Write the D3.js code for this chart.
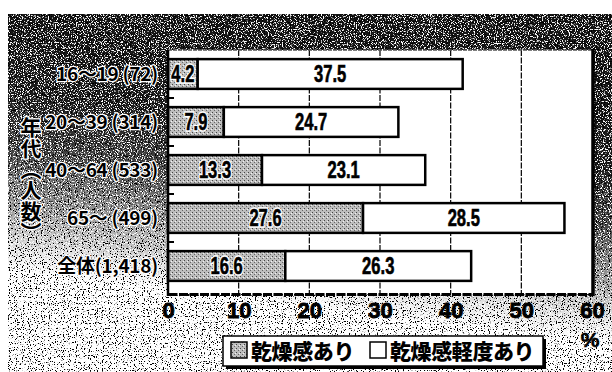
<!DOCTYPE html>
<html>
<head>
<meta charset="utf-8">
<script src="https://cdn.jsdelivr.net/npm/d3@7"></script>
<style>
  html, body { margin: 0; padding: 0; background: #fff; }
  svg { display: block; }
</style>
</head>
<body>
<script>
// Dryness sensation by age group (percent of respondents)
const categories = ["16～19 (72)", "20～39 (314)", "40～64 (533)", "65～ (499)", "全体(1,418)"];
const dry = [4.2, 7.9, 13.3, 27.6, 16.6];
const mildDry = [37.5, 24.7, 23.1, 28.5, 26.3];
const seriesNames = ["乾燥感あり", "乾燥感軽度あり"];
const tickValues = [0, 10, 20, 30, 40, 50, 60];
const axisTitle = "年代︵人数︶";

const W = 612, H = 372;
const plot = { left: 168, right: 592, top: 50, bottom: 290, axisY: 294 };
const latin = "'Liberation Sans', Arial, sans-serif";
const jpFont = "'Noto Sans CJK JP', sans-serif";

const svg = d3.select("body").append("svg")
  .attr("width", W).attr("height", H);

const defs = svg.append("defs");

// shaded backdrop: dark at the top, fading out below the axis
const grad = defs.append("linearGradient").attr("id", "bgShade")
  .attr("x1", "0.6").attr("y1", "0").attr("x2", "0.4").attr("y2", "1");
[[0, "#141414"], [0.32, "#1c1c1c"], [0.49, "#474747"], [0.63, "#9a9a9a"], [0.75, "#e8e8e8"], [0.81, "#ffffff"], [1, "#ffffff"]]
  .forEach(([o, c]) => grad.append("stop").attr("offset", o).attr("stop-color", c));

// halftone grain
const grain = defs.append("filter").attr("id", "grain")
  .attr("x", 0).attr("y", 0).attr("width", 1).attr("height", 1);
grain.append("feTurbulence").attr("type", "fractalNoise")
  .attr("baseFrequency", 0.85).attr("numOctaves", 1).attr("seed", 7).attr("result", "noise");
grain.append("feColorMatrix").attr("in", "noise").attr("type", "matrix")
  .attr("values", "0 0 0 0 1  0 0 0 0 1  0 0 0 0 1  14 0 0 0 -7.6").attr("result", "light");
grain.append("feColorMatrix").attr("in", "noise").attr("type", "matrix")
  .attr("values", "0 0 0 0 0  0 0 0 0 0  0 0 0 0 0  0 -14 0 0 6.0").attr("result", "dark");
grain.append("feComposite").attr("in", "light").attr("in2", "SourceGraphic").attr("operator", "in").attr("result", "lightIn");
grain.append("feComposite").attr("in", "dark").attr("in2", "SourceGraphic").attr("operator", "in").attr("result", "darkIn");
const merge = grain.append("feMerge");
merge.append("feMergeNode").attr("in", "SourceGraphic");
merge.append("feMergeNode").attr("in", "lightIn");
merge.append("feMergeNode").attr("in", "darkIn");

// dotted fill for the first series
const pat = defs.append("pattern").attr("id", "dotFill")
  .attr("width", 4).attr("height", 4).attr("patternUnits", "userSpaceOnUse");
pat.append("rect").attr("width", 4).attr("height", 4).attr("fill", "#bdbdbd");
pat.append("rect").attr("x", 0).attr("y", 0).attr("width", 1).attr("height", 1).attr("fill", "#444");
pat.append("rect").attr("x", 2).attr("y", 2).attr("width", 1).attr("height", 1).attr("fill", "#666");
pat.append("rect").attr("x", 3).attr("y", 1).attr("width", 1).attr("height", 1).attr("fill", "#f2f2f2");

svg.append("rect").attr("x", 8).attr("y", 14).attr("width", W - 8).attr("height", H - 14)
  .attr("fill", "url(#bgShade)").attr("filter", "url(#grain)");

// plot panel
svg.append("rect").attr("x", plot.left).attr("y", plot.top)
  .attr("width", plot.right - plot.left).attr("height", plot.axisY - plot.top)
  .attr("fill", "#fff");

const x = d3.scaleLinear().domain([0, 60]).range([plot.left, plot.right]);
const y = d3.scaleBand().domain(categories).range([plot.top, plot.bottom])
  .paddingInner(0.38).paddingOuter(0.19);

// vertical grid
svg.append("g").selectAll("line").data(tickValues.filter(t => t > 0 && t < 60)).join("line")
  .attr("x1", d => x(d)).attr("x2", d => x(d))
  .attr("y1", plot.top).attr("y2", plot.axisY)
  .attr("stroke", "#000").attr("stroke-width", 1.2)
  .attr("stroke-dasharray", "6,1.5");

// top edge of panel
svg.append("line").attr("x1", plot.left).attr("x2", plot.right)
  .attr("y1", plot.top).attr("y2", plot.top)
  .attr("stroke", "#555").attr("stroke-width", 1.5).attr("stroke-dasharray", "4,1");

// right edge of panel
svg.append("line").attr("x1", plot.right + 1).attr("x2", plot.right + 1)
  .attr("y1", plot.top - 1).attr("y2", plot.axisY + 2)
  .attr("stroke", "#000").attr("stroke-width", 3.5);

// category ticks at band boundaries
const step = y.step();
svg.append("g").selectAll("line").data(categories.slice(1)).join("line")
  .attr("x1", plot.left).attr("x2", plot.left + 6)
  .attr("y1", d => y(d) - step * y.paddingInner() / 2)
  .attr("y2", d => y(d) - step * y.paddingInner() / 2)
  .attr("stroke", "#000").attr("stroke-width", 2);

// stacked bars
const rows = categories.map((c, i) => ({ c, a: dry[i], b: mildDry[i] }));
const bars = svg.append("g");
bars.selectAll("rect.a").data(rows).join("rect").attr("class", "a")
  .attr("x", x(0)).attr("y", d => y(d.c))
  .attr("width", d => x(d.a) - x(0)).attr("height", y.bandwidth())
  .attr("fill", "url(#dotFill)").attr("stroke", "#000").attr("stroke-width", 2.5);
bars.selectAll("rect.b").data(rows).join("rect").attr("class", "b")
  .attr("x", d => x(d.a)).attr("y", d => y(d.c))
  .attr("width", d => x(d.a + d.b) - x(d.a)).attr("height", y.bandwidth())
  .attr("fill", "#fff").attr("stroke", "#000").attr("stroke-width", 2.5);

// value labels, set in a condensed heavy face
const labels = svg.append("g").attr("font-family", latin).attr("font-weight", "bold")
  .attr("font-size", 23).attr("text-anchor", "middle");
const fmt = d3.format(".1f");
const posA = d => `translate(${x(d.a / 2)},${y(d.c) + y.bandwidth() / 2}) scale(0.72,1)`;
const posB = d => `translate(${x(d.a + d.b / 2)},${y(d.c) + y.bandwidth() / 2}) scale(0.72,1)`;
// white halo behind labels on the dotted segments
labels.selectAll("text.halo").data(rows).join("text").attr("class", "halo")
  .attr("transform", posA).attr("dy", "0.36em")
  .attr("fill", "#fff").attr("stroke", "#fff").attr("stroke-width", 3.5)
  .text(d => fmt(d.a));
labels.selectAll("text.a").data(rows).join("text").attr("class", "a")
  .attr("transform", posA).attr("dy", "0.36em")
  .attr("fill", "#000").attr("stroke", "#000").attr("stroke-width", 0.6)
  .text(d => fmt(d.a));
labels.selectAll("text.b").data(rows).join("text").attr("class", "b")
  .attr("transform", posB).attr("dy", "0.36em")
  .attr("fill", "#000").attr("stroke", "#000").attr("stroke-width", 0.6)
  .text(d => fmt(d.b));

// left axis line
svg.append("line").attr("x1", plot.left).attr("x2", plot.left)
  .attr("y1", plot.top).attr("y2", plot.axisY + 2)
  .attr("stroke", "#000").attr("stroke-width", 2.5);

// bottom axis
const xAxis = svg.append("g").attr("transform", `translate(0,${plot.axisY})`)
  .call(d3.axisBottom(x).tickValues(tickValues).tickSize(0).tickPadding(8));
xAxis.attr("font-size", 22).attr("font-family", latin).attr("font-weight", "bold");
xAxis.select(".domain").attr("stroke", "#000").attr("stroke-width", 3).attr("stroke-dasharray", "9,1.5");
xAxis.selectAll(".tick text")
  .attr("fill", "#000").attr("stroke", "#000").attr("stroke-width", 0.8);

svg.append("text")
  .attr("x", x(60) - 2).attr("y", 347).attr("text-anchor", "middle")
  .attr("font-family", latin).attr("font-weight", "bold").attr("font-size", 21)
  .attr("fill", "#000").attr("stroke", "#000").attr("stroke-width", 0.6)
  .text("%");

// category labels
svg.append("g").selectAll("text").data(categories).join("text")
  .attr("x", 158).attr("y", d => y(d) + y.bandwidth() / 2).attr("dy", "0.36em")
  .attr("text-anchor", "end").attr("font-family", jpFont).attr("font-weight", "bold")
  .attr("font-size", 19).attr("letter-spacing", -0.3)
  .attr("fill", "#000").attr("stroke", "#fff").attr("stroke-width", 2.5).attr("paint-order", "stroke")
  .text(d => d);

// vertical axis title
svg.append("text").attr("x", 31).attr("y", 117)
  .attr("writing-mode", "vertical-rl").attr("font-family", jpFont).attr("font-weight", "bold")
  .attr("font-size", 21).attr("fill", "#000")
  .attr("stroke", "#fff").attr("stroke-width", 2.5).attr("paint-order", "stroke")
  .text(axisTitle);

// legend
const lg = svg.append("g");
lg.append("rect").attr("x", 226).attr("y", 339).attr("width", 320).attr("height", 30).attr("fill", "#000");
lg.append("rect").attr("x", 223).attr("y", 336).attr("width", 320).attr("height", 30)
  .attr("fill", "#fff").attr("stroke", "#000").attr("stroke-width", 1.5);
const legendItems = [
  { name: seriesNames[0], fill: "url(#dotFill)", x: 231 },
  { name: seriesNames[1], fill: "#fff", x: 370 }
];
legendItems.forEach(it => {
  lg.append("rect").attr("x", it.x).attr("y", 342).attr("width", 16).attr("height", 16)
    .attr("fill", it.fill).attr("stroke", "#000").attr("stroke-width", 1.5);
  lg.append("text").attr("x", it.x + 20).attr("y", 351).attr("dy", "0.36em")
    .attr("font-family", jpFont).attr("font-weight", "900").attr("font-size", 21)
    .attr("letter-spacing", -0.4).text(it.name);
});
</script>
</body>
</html>
